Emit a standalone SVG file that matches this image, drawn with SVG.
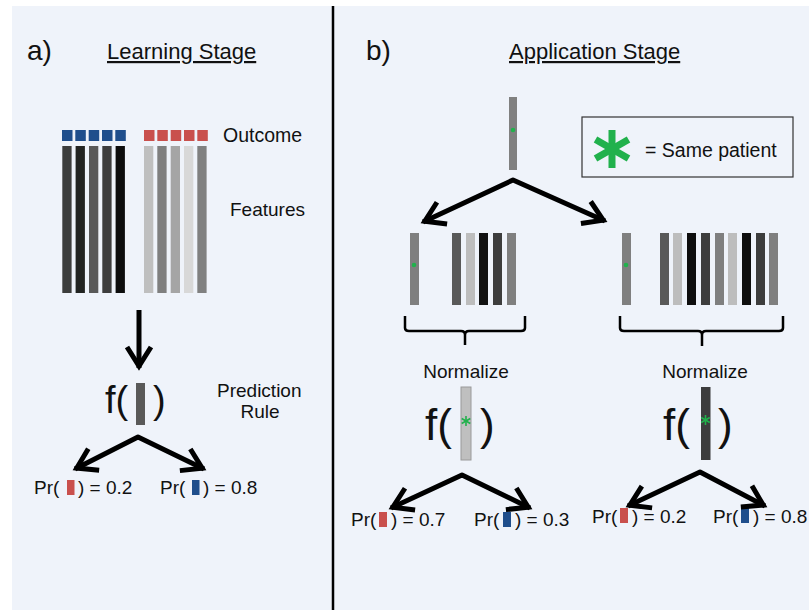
<svg xmlns="http://www.w3.org/2000/svg" width="809" height="610" viewBox="0 0 809 610">
<defs>
<style>
text{font-family:"Liberation Sans",Arial,sans-serif;fill:#111}
.h{font-size:22px;text-decoration:underline}
.lab{font-size:28px}
.t{font-size:19px}
.pr{font-size:19px}
.conn{fill:none;stroke:#000;stroke-width:5;marker-end:url(#ah)}
.split{fill:none;stroke:#000;stroke-width:5;stroke-linejoin:round;marker-start:url(#ah);marker-end:url(#ah)}
.brace{fill:none;stroke:#000;stroke-width:2.5}
.red{fill:#c9504d}
.blue{fill:#1f4e8c}
.ast{stroke:#21b14c;fill:none}
</style>
<marker id="ah" markerUnits="userSpaceOnUse" viewBox="-25 -15 30 30" markerWidth="30" markerHeight="30" refX="0" refY="0" orient="auto-start-reverse" overflow="visible">
<path d="M-21,-12 L-2,0 L-21,12" fill="none" stroke="#000" stroke-width="5" stroke-linejoin="miter"/>
</marker>
</defs>
<rect x="0" y="0" width="809" height="610" fill="#ffffff"/>
<rect x="12" y="6" width="797" height="604" fill="#eff3fa"/>
<line x1="333" y1="6" x2="333" y2="610" stroke="#000" stroke-width="2.5"/>

<g id="panel-a-title">
<text class="lab" x="27" y="60">a)</text>
<text class="h" x="107" y="59">Learning Stage</text>
</g>

<g id="outcomes">
<rect class="blue" x="62" y="130" width="10.5" height="11"/>
<rect class="blue" x="75.3" y="130" width="10.5" height="11"/>
<rect class="blue" x="88.7" y="130" width="10.5" height="11"/>
<rect class="blue" x="102" y="130" width="10.5" height="11"/>
<rect class="blue" x="115.3" y="130" width="10.5" height="11"/>
<rect class="red" x="144" y="130" width="10.5" height="11"/>
<rect class="red" x="157.3" y="130" width="10.5" height="11"/>
<rect class="red" x="170.7" y="130" width="10.5" height="11"/>
<rect class="red" x="184" y="130" width="10.5" height="11"/>
<rect class="red" x="197.3" y="130" width="10.5" height="11"/>
<text class="t" x="223" y="142" style="font-size:19.5px">Outcome</text>
</g>

<g id="features">
<rect x="62.3" y="146" width="9.3" height="147" fill="#3c3d3c"/>
<rect x="75.6" y="146" width="9.3" height="147" fill="#222422"/>
<rect x="89" y="146" width="9.3" height="147" fill="#595959"/>
<rect x="102.3" y="146" width="9.3" height="147" fill="#3d3d3d"/>
<rect x="115.6" y="146" width="9.3" height="147" fill="#0d0d0d"/>
<rect x="144" y="146" width="9.3" height="147" fill="#bfbfbf"/>
<rect x="157.3" y="146" width="9.3" height="147" fill="#7f7f7f"/>
<rect x="170.7" y="146" width="9.3" height="147" fill="#a5a5a5"/>
<rect x="184" y="146" width="9.3" height="147" fill="#d8d8d8"/>
<rect x="197.3" y="146" width="9.3" height="147" fill="#808080"/>
<text class="t" x="230" y="216">Features</text>
</g>

<g id="prediction-rule">
<text x="105" y="413" style="font-size:38px">f(</text>
<rect x="136" y="383" width="9" height="42" fill="#595959"/>
<text x="153" y="413" style="font-size:38px">)</text>
<text class="t" x="217" y="397">Prediction</text>
<text class="t" x="260" y="418" text-anchor="middle">Rule</text>
</g>

<g id="pr-a-red">
<text class="pr" x="34" y="494">Pr(</text>
<rect class="red" x="67" y="480" width="7.5" height="15"/>
<text class="pr" x="78" y="494">) = 0.2</text>
</g>
<g id="pr-a-blue">
<text class="pr" x="160" y="494">Pr(</text>
<rect class="blue" x="192" y="480" width="7.5" height="15"/>
<text class="pr" x="203" y="494">) = 0.8</text>
</g>

<g id="panel-b-title">
<text class="lab" x="366" y="60">b)</text>
<text class="h" x="509" y="59">Application Stage</text>
</g>

<g id="new-patient">
<rect x="509" y="97" width="8" height="73" fill="#808080"/>
<circle cx="513" cy="130" r="2.3" fill="#21b14c"/>
</g>

<g id="legend">
<rect x="582" y="117" width="211" height="60" fill="#eff3fa" stroke="#333" stroke-width="1.2"/>
<g class="ast" stroke-width="7">
<line x1="612" y1="130" x2="612" y2="168"/>
<line x1="595.5" y1="139.5" x2="628.5" y2="158.5"/>
<line x1="595.5" y1="158.5" x2="628.5" y2="139.5"/>
</g>
<text class="t" x="645" y="157" style="font-size:19.5px">= Same patient</text>
</g>

<g id="cohort-left">
<rect x="410" y="233" width="9" height="72" fill="#7f7f7f"/>
<circle cx="414" cy="265" r="2.3" fill="#21b14c"/>
<rect x="452" y="233" width="9" height="72" fill="#595959"/>
<rect x="466" y="233" width="9" height="72" fill="#bdbdbd"/>
<rect x="479" y="233" width="9" height="72" fill="#111111"/>
<rect x="493" y="233" width="9" height="72" fill="#3d3d3d"/>
<rect x="507" y="233" width="9" height="72" fill="#7f7f7f"/>
<path class="brace" d="M405,316 V328 Q405,331 409,331 H461 Q465,331 465,335 V345 M465,335 Q465,331 469,331 H521 Q525,331 525,328 V316"/>
<text class="t" x="466" y="378" text-anchor="middle">Normalize</text>
</g>

<g id="cohort-right">
<rect x="622" y="233" width="9" height="72" fill="#7f7f7f"/>
<circle cx="626" cy="265" r="2.3" fill="#21b14c"/>
<rect x="660" y="233" width="9" height="72" fill="#595959"/>
<rect x="673" y="233" width="9" height="72" fill="#bdbdbd"/>
<rect x="687" y="233" width="9" height="72" fill="#0e0e0e"/>
<rect x="701" y="233" width="9" height="72" fill="#3d3d3d"/>
<rect x="715" y="233" width="9" height="72" fill="#7f7f7f"/>
<rect x="728" y="233" width="9" height="72" fill="#bdbdbd"/>
<rect x="742" y="233" width="9" height="72" fill="#0e0e0e"/>
<rect x="756" y="233" width="9" height="72" fill="#3d3d3d"/>
<rect x="769" y="233" width="9" height="72" fill="#7f7f7f"/>
<path class="brace" d="M620,316 V328 Q620,331 624,331 H698 Q702,331 702,335 V346 M702,335 Q702,331 706,331 H779 Q783,331 783,328 V316"/>
<text class="t" x="705" y="378" text-anchor="middle">Normalize</text>
</g>

<g id="rule-left">
<text x="425" y="440" style="font-size:44px">f(</text>
<rect x="461" y="387" width="10" height="73" fill="#bfbfbf" stroke="#9a9a9a" stroke-width="1"/>
<g class="ast" stroke-width="1.6">
<line x1="466" y1="416" x2="466" y2="426"/>
<line x1="461.7" y1="418.5" x2="470.3" y2="423.5"/>
<line x1="461.7" y1="423.5" x2="470.3" y2="418.5"/>
</g>
<text x="480" y="440" style="font-size:44px">)</text>
</g>

<g id="rule-right">
<text x="663" y="440" style="font-size:44px">f(</text>
<rect x="701" y="387" width="9.5" height="73" fill="#3d3d3d"/>
<g class="ast" stroke-width="1.6">
<line x1="705.5" y1="415" x2="705.5" y2="425"/>
<line x1="701.2" y1="417.5" x2="709.8" y2="422.5"/>
<line x1="701.2" y1="422.5" x2="709.8" y2="417.5"/>
</g>
<text x="718" y="440" style="font-size:44px">)</text>
</g>

<g id="pr-b1-red">
<text class="pr" x="351" y="526">Pr(</text>
<rect class="red" x="379" y="512" width="8" height="15"/>
<text class="pr" x="391" y="526">) = 0.7</text>
</g>
<g id="pr-b1-blue">
<text class="pr" x="474" y="526">Pr(</text>
<rect class="blue" x="503" y="512" width="8" height="15"/>
<text class="pr" x="515" y="526">) = 0.3</text>
</g>
<g id="pr-b2-red">
<text class="pr" x="592" y="523">Pr(</text>
<rect class="red" x="620" y="508" width="8" height="15"/>
<text class="pr" x="632" y="523">) = 0.2</text>
</g>
<g id="pr-b2-blue">
<text class="pr" x="713" y="523">Pr(</text>
<rect class="blue" x="741" y="508" width="8" height="15"/>
<text class="pr" x="753" y="523">) = 0.8</text>
</g>

<g id="connectors">
<path class="conn" d="M139,310 V368"/>
<path class="split" d="M75,469 L138,437 L204,469"/>
<path class="split" d="M423,222 L513,180 L605,221"/>
<path class="split" d="M391,508 L462,475 L530,508"/>
<path class="split" d="M628,506 L700,472 L765,506"/>
</g>
</svg>
